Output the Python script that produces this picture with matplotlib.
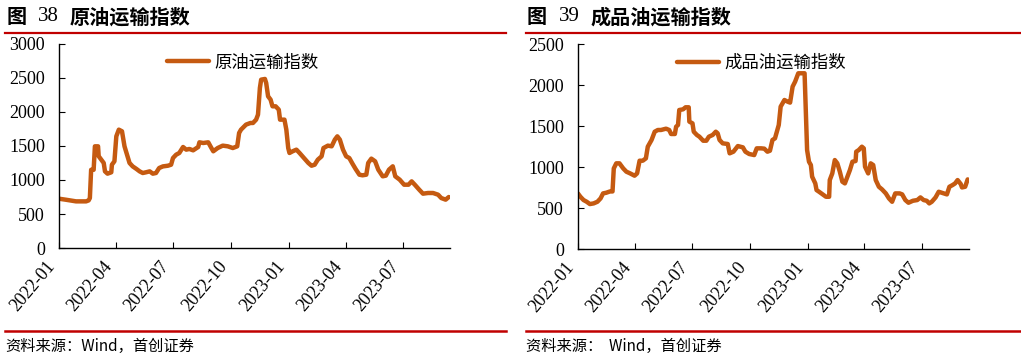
import pandas as pd
import matplotlib.pyplot as plt
import matplotlib.dates as mdates

plt.rcParams['font.family'] = ['Noto Sans CJK SC', 'DejaVu Sans']

# =========================
# data
# =========================
crude_dates = [
    '2022-01-01', '2022-01-12', '2022-01-28', '2022-02-13', '2022-02-17', '2022-02-19',
    '2022-02-21', '2022-02-25', '2022-02-27', '2022-03-04', '2022-03-05', '2022-03-09',
    '2022-03-13', '2022-03-15', '2022-03-19', '2022-03-25', '2022-03-26', '2022-03-30',
    '2022-04-02', '2022-04-06', '2022-04-11', '2022-04-15', '2022-04-19', '2022-04-23',
    '2022-04-28', '2022-05-04', '2022-05-09', '2022-05-14', '2022-05-19', '2022-05-25',
    '2022-05-30', '2022-06-04', '2022-06-09', '2022-06-15', '2022-06-23', '2022-06-28',
    '2022-07-01', '2022-07-06', '2022-07-11', '2022-07-17', '2022-07-22', '2022-07-27',
    '2022-08-02', '2022-08-10', '2022-08-12', '2022-08-18', '2022-08-26', '2022-08-31',
    '2022-09-03', '2022-09-10', '2022-09-18', '2022-09-26', '2022-10-04', '2022-10-11',
    '2022-10-14', '2022-10-17', '2022-10-25', '2022-11-01', '2022-11-05', '2022-11-10',
    '2022-11-13', '2022-11-16', '2022-11-18', '2022-11-24', '2022-11-26', '2022-11-29',
    '2022-12-03', '2022-12-06', '2022-12-11', '2022-12-16', '2022-12-18', '2022-12-25',
    '2022-12-28', '2022-12-31', '2023-01-02', '2023-01-07', '2023-01-13', '2023-01-18',
    '2023-01-25', '2023-02-01', '2023-02-06', '2023-02-11', '2023-02-16', '2023-02-22',
    '2023-02-25', '2023-03-04', '2023-03-10', '2023-03-15', '2023-03-19', '2023-03-23',
    '2023-03-28', '2023-04-02', '2023-04-07', '2023-04-12', '2023-04-17', '2023-04-23',
    '2023-04-28', '2023-05-04', '2023-05-07', '2023-05-12', '2023-05-18', '2023-05-23',
    '2023-05-30', '2023-06-04', '2023-06-09', '2023-06-15', '2023-06-19', '2023-06-26',
    '2023-07-03', '2023-07-10', '2023-07-15', '2023-07-20', '2023-07-27', '2023-08-02',
    '2023-08-10', '2023-08-18', '2023-08-26', '2023-08-31', '2023-09-07', '2023-09-12',
]
crude_values = [
    725, 710, 686, 686, 700, 735,
    1150, 1150, 1495, 1495, 1350, 1300,
    1250, 1127, 1093, 1113, 1225, 1275,
    1642, 1740, 1716, 1495, 1372, 1250,
    1200, 1162, 1127, 1103, 1113, 1127,
    1093, 1103, 1176, 1200, 1210, 1225,
    1323, 1372, 1397, 1485, 1446, 1456,
    1436, 1485, 1554, 1544, 1554, 1470,
    1422, 1470, 1505, 1495, 1470, 1495,
    1691, 1740, 1814, 1838, 1838, 1887,
    1961, 2353, 2475, 2485, 2426, 2230,
    2181, 2083, 2083, 2034, 1887, 1887,
    1740, 1470, 1397, 1422, 1446, 1397,
    1323, 1250, 1210, 1225, 1299, 1348,
    1470, 1505, 1495, 1593, 1642, 1593,
    1446, 1348, 1323, 1240, 1162, 1078,
    1069, 1078, 1250, 1314, 1275, 1152,
    1054, 1064, 1152, 1201, 1054, 1005,
    931, 931, 980, 931, 858, 799,
    809, 809, 784, 735, 711, 750,
]

product_dates = [
    '2022-01-01', '2022-01-05', '2022-01-10', '2022-01-15', '2022-01-20', '2022-01-26',
    '2022-02-01', '2022-02-06', '2022-02-10', '2022-02-15', '2022-02-21', '2022-02-25',
    '2022-02-27', '2022-03-03', '2022-03-08', '2022-03-14', '2022-03-19', '2022-03-25',
    '2022-04-01', '2022-04-05', '2022-04-09', '2022-04-14', '2022-04-19', '2022-04-22',
    '2022-04-28', '2022-05-03', '2022-05-08', '2022-05-13', '2022-05-21', '2022-05-26',
    '2022-05-29', '2022-06-04', '2022-06-06', '2022-06-09', '2022-06-11', '2022-06-17',
    '2022-06-21', '2022-06-26', '2022-06-27', '2022-07-02', '2022-07-04', '2022-07-09',
    '2022-07-13', '2022-07-19', '2022-07-24', '2022-07-28', '2022-08-03', '2022-08-08',
    '2022-08-11', '2022-08-14', '2022-08-19', '2022-08-27', '2022-08-30', '2022-09-05',
    '2022-09-12', '2022-09-20', '2022-09-24', '2022-09-30', '2022-10-08', '2022-10-12',
    '2022-10-19', '2022-10-24', '2022-10-29', '2022-11-02', '2022-11-06', '2022-11-10',
    '2022-11-16', '2022-11-19', '2022-11-25', '2022-11-30', '2022-12-04', '2022-12-08',
    '2022-12-12', '2022-12-17', '2022-12-23', '2022-12-25', '2022-12-27', '2022-12-29',
    '2022-12-31', '2023-01-03', '2023-01-06', '2023-01-08', '2023-01-13', '2023-01-15',
    '2023-01-19', '2023-01-24', '2023-01-30', '2023-02-04', '2023-02-05', '2023-02-09',
    '2023-02-13', '2023-02-17', '2023-02-21', '2023-02-25', '2023-03-01', '2023-03-05',
    '2023-03-09', '2023-03-13', '2023-03-18', '2023-03-19', '2023-03-23', '2023-03-28',
    '2023-03-31', '2023-04-02', '2023-04-07', '2023-04-11', '2023-04-15', '2023-04-19',
    '2023-04-24', '2023-04-29', '2023-05-05', '2023-05-10', '2023-05-15', '2023-05-20',
    '2023-05-27', '2023-05-31', '2023-06-05', '2023-06-10', '2023-06-17', '2023-06-24',
    '2023-06-29', '2023-07-04', '2023-07-09', '2023-07-13', '2023-07-17', '2023-07-23',
    '2023-07-28', '2023-08-05', '2023-08-10', '2023-08-14', '2023-08-19', '2023-08-23',
    '2023-08-27', '2023-09-01', '2023-09-03', '2023-09-08', '2023-09-12',
]
product_values = [
    680, 639, 599, 578, 550, 558,
    578, 619, 680, 688, 704, 704,
    985, 1047, 1047, 985, 945, 924,
    896, 924, 1079, 1079, 1108, 1250,
    1332, 1433, 1454, 1454, 1470, 1454,
    1405, 1405, 1494, 1515, 1698, 1706,
    1731, 1731, 1556, 1535, 1433, 1393,
    1372, 1323, 1323, 1372, 1393, 1433,
    1413, 1332, 1291, 1283, 1169, 1189,
    1258, 1242, 1189, 1161, 1148, 1230,
    1230, 1226, 1189, 1201, 1332, 1352,
    1515, 1739, 1820, 1800, 1788, 1983,
    2044, 2146, 2146, 2146, 2146, 1657,
    1209, 1067, 1026, 884, 802, 721,
    700, 672, 639, 639, 843, 924,
    1087, 1047, 945, 823, 802, 884,
    965, 1067, 1075, 1189, 1209, 1250,
    1230, 1006, 924, 1047, 1026, 843,
    761, 729, 680, 619, 578, 680,
    680, 668, 599, 566, 590, 599,
    631, 599, 590, 558, 578, 631,
    700, 680, 668, 761, 782, 802,
    843, 794, 753, 761, 851,
]

tick_dates = ['2022-01-01', '2022-04-01', '2022-07-01', '2022-10-01',
              '2023-01-01', '2023-04-01', '2023-07-01']

panels = [
    dict(num='38', title='原油运输指数', label='原油运输指数',
         dates=crude_dates, values=crude_values, ymax=3000, rect=[0.0578, 0.311, 0.383, 0.567],
         x0=0.006, leg_x=0.47, source='资料来源：Wind，首创证券'),
    dict(num='39', title='成品油运输指数', label='成品油运输指数',
         dates=product_dates, values=product_values, ymax=2500, rect=[0.566, 0.308, 0.383, 0.569],
         x0=0.516, leg_x=0.47, source='资料来源：  Wind，首创证券'),
]

line_color = '#C55A11'
red = '#C00000'

fig = plt.figure(figsize=(10.21, 3.6), dpi=100)

for p in panels:
    ax = fig.add_axes(p['rect'])
    ax.plot(pd.to_datetime(p['dates']), p['values'], color=line_color, lw=3.2,
            solid_capstyle='round', label=p['label'])
    ax.set_xlim(pd.Timestamp('2022-01-01'), pd.Timestamp('2023-09-14'))
    ax.set_ylim(0, p['ymax'])
    ax.set_yticks(range(0, p['ymax'] + 1, 500))
    ax.set_xticks(pd.to_datetime(tick_dates))
    ax.xaxis.set_major_formatter(mdates.DateFormatter('%Y-%m'))
    for s in ['top', 'right']:
        ax.spines[s].set_visible(False)
    for s in ['left', 'bottom']:
        ax.spines[s].set_linewidth(1.0)
    ax.tick_params(direction='in', length=4, width=0.8, labelsize=13)
    ax.tick_params(axis='y', pad=10)
    ax.tick_params(axis='x', pad=7)
    for t in ax.get_yticklabels():
        t.set_family('Liberation Serif')
    for t in ax.get_xticklabels():
        t.set_family('Liberation Serif')
        t.set_rotation(50)
        t.set_ha('right')
    ax.legend(loc='center', bbox_to_anchor=(p['leg_x'], 0.91), frameon=False,
              handlelength=2.4, fontsize=12.5, handletextpad=0.3)

    # heading, red rules and source note
    x0 = p['x0']
    fig.text(x0, 0.953, '图', fontsize=14.5, weight='bold', va='center')
    fig.text(x0 + 0.031, 0.953, p['num'], fontsize=15, family='Liberation Serif', va='center')
    fig.text(x0 + 0.062, 0.953, p['title'], fontsize=14.5, weight='bold', va='center')
    fig.add_artist(plt.Line2D([x0 - 0.001, x0 + 0.49], [0.907, 0.907], color=red, lw=1.6,
                              transform=fig.transFigure))
    fig.add_artist(plt.Line2D([x0 - 0.001, x0 + 0.49], [0.081, 0.081], color=red, lw=1.8,
                              transform=fig.transFigure))
    fig.text(x0 - 0.001, 0.038, p['source'], fontsize=11, style='italic', va='center')

plt.savefig('out.png', dpi=100)
